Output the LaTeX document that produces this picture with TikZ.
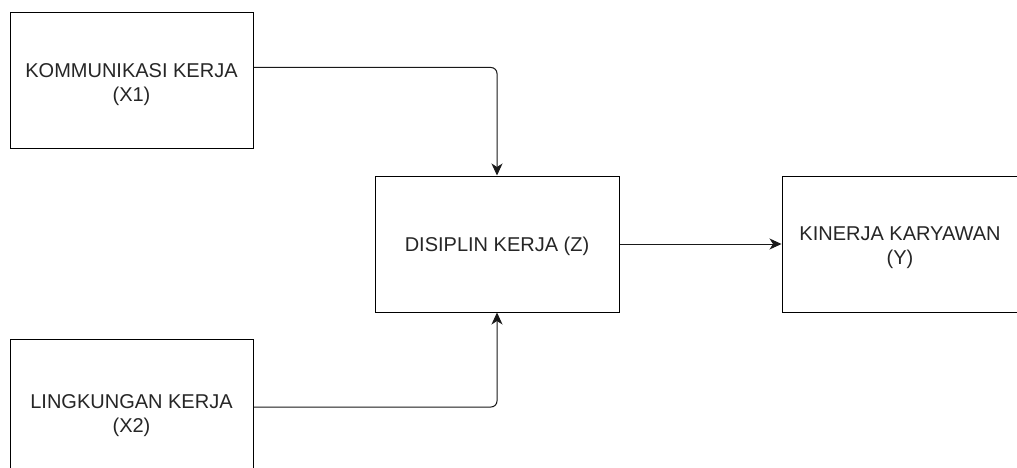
\documentclass[tikz,border=0pt]{standalone}
\usepackage{fontspec}
\setmainfont{Liberation Sans}
\usetikzlibrary{arrows.meta}
\begin{document}
\begin{tikzpicture}[x=1pt,y=-1pt,
  box/.style={draw=black,line width=1pt,minimum width=243pt,minimum height=136pt,inner sep=0pt},
  txt/.style={align=center,text=black!85,font=\fontsize{20}{24}\selectfont},
  conn/.style={draw=black!90,line width=1pt,rounded corners=6pt,-{Stealth[length=12pt,width=11pt,inset=3.5pt]}}]
\clip (0,0) rectangle (1017,468);
\fill[white] (0,0) rectangle (1017,468);
\node[box,label={[txt,yshift=-3.5pt]center:KOMMUNIKASI KERJA\\(X1)}] (x1) at (131.5,81) {};
\node[box,minimum width=244pt,label={[txt,yshift=-2pt]center:DISIPLIN KERJA (Z)}] (z) at (497,244) {};
\node[box,minimum width=244pt,label={[txt,yshift=-4pt,xshift=-4pt]center:KINERJA KARYAWAN\\(Y)}] (y) at (904,244) {};
\node[box,label={[txt,yshift=-8.5pt]center:LINGKUNGAN KERJA\\(X2)}] (x2) at (131.5,407) {};
\draw[conn] ([yshift=13.5pt]x1.east) -| (z.north);
\draw[conn] (x2.east) -| (z.south);
\draw[conn] (z.east) -- (y.west);
\end{tikzpicture}
\end{document}
